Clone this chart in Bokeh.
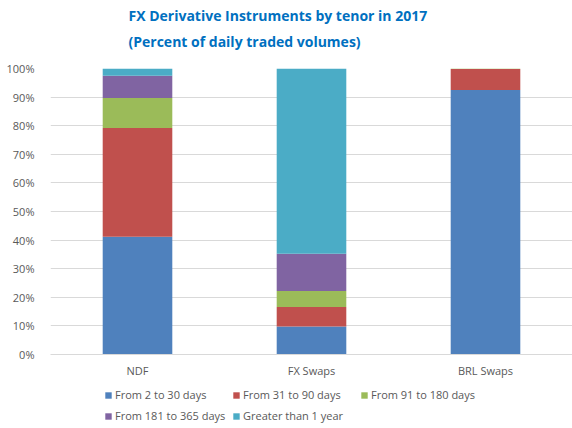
from bokeh.plotting import figure
from bokeh.layouts import column
from bokeh.models import Title, Legend, LegendItem, FactorRange, Range1d, FixedTicker
from bokeh.embed import file_html
from bokeh.resources import INLINE

instruments = ["NDF", "FX Swaps", "BRL Swaps"]
tenors = ["From 2 to 30 days", "From 31 to 90 days", "From 91 to 180 days",
          "From 181 to 365 days", "Greater than 1 year"]
d_2_30 = [41.2, 9.8, 92.5]
d_31_90 = [38.0, 6.8, 7.3]
d_91_180 = [10.5, 5.6, 0.2]
d_181_365 = [7.8, 13.0, 0.0]
d_gt_1y = [2.5, 64.8, 0.0]
y_ticks = [0, 10, 20, 30, 40, 50, 60, 70, 80, 90, 100]
y_tick_labels = ["0%", "10%", "20%", "30%", "40%", "50%", "60%", "70%", "80%", "90%", "100%"]
colors = ["#4F81BD", "#C0504D", "#9BBB59", "#8064A2", "#4BACC6"]

keys = ["t1", "t2", "t3", "t4", "t5"]
source = dict(x=instruments, t1=d_2_30, t2=d_31_90, t3=d_91_180, t4=d_181_365, t5=d_gt_1y)

FONT = "Open Sans"
GRAY = "#595959"

p = figure(width=572, height=380, x_range=FactorRange(*instruments, range_padding=0),
           y_range=Range1d(0, 100), output_backend="svg", toolbar_location=None,
           min_border_left=50, min_border_right=0, min_border_top=6, min_border_bottom=0)
p.title = None
p.vbar_stack(keys, x="x", width=0.4, color=colors, source=source, line_color=None)

# spacer between the title block and the plot area
p.add_layout(Title(text=" ", text_font=FONT, text_font_size="10px", standoff=0), "above")
p.add_layout(Title(text="(Percent of daily traded volumes)", text_font=FONT, text_font_size="14px",
                   text_font_style="bold", text_color="#0070C0", align="left", offset=78,
                   standoff=4), "above")
p.add_layout(Title(text="FX Derivative Instruments by tenor in 2017", text_font=FONT, text_font_size="14px",
                   text_font_style="bold", text_color="#0070C0", align="left", offset=78,
                   standoff=6), "above")

p.yaxis.ticker = FixedTicker(ticks=y_ticks)
p.yaxis.major_label_overrides = {t: l for t, l in zip(y_ticks, y_tick_labels)}
for ax in (p.xaxis[0], p.yaxis[0]):
    ax.major_label_text_font = FONT
    ax.major_label_text_font_size = "11px"
    ax.major_label_text_color = GRAY
    ax.major_tick_line_color = None
    ax.minor_tick_line_color = None
p.yaxis.axis_line_color = None
p.yaxis.major_label_standoff = 10
p.xaxis.axis_line_color = "#D9D9D9"
p.xaxis.major_label_standoff = 2
p.xgrid.grid_line_color = None
p.ygrid.grid_line_color = "#D9D9D9"
p.outline_line_color = None

# legend panel (separate figure holding legend swatches, drawn off-range)
lf = figure(width=572, height=48, x_range=Range1d(0, 1), y_range=Range1d(0, 1),
            output_backend="svg", toolbar_location=None, min_border=0,
            x_axis_location=None, y_axis_location=None)
lf.grid.visible = False
lf.outline_line_color = None
swatches = [lf.quad(left=[-10], right=[-9], bottom=[-10], top=[-9], fill_color=c, line_color=None)
            for c in colors]
items = [LegendItem(label=t, renderers=[r]) for t, r in zip(tenors, swatches)]
legend_style = dict(orientation="horizontal",
                    label_text_font=FONT, label_text_font_size="11px", label_text_color=GRAY,
                    glyph_width=8, glyph_height=8, label_standoff=3, spacing=6, label_width=111,
                    border_line_color=None, background_fill_alpha=0, padding=2, margin=0,
                    label_height=14)
lf.add_layout(Legend(items=items[:3], location=(54, 26), **legend_style), "center")
lf.add_layout(Legend(items=items[3:], location=(54, 5), **legend_style), "center")

open("out.html", "w").write(file_html(column(p, lf, spacing=0), INLINE))
